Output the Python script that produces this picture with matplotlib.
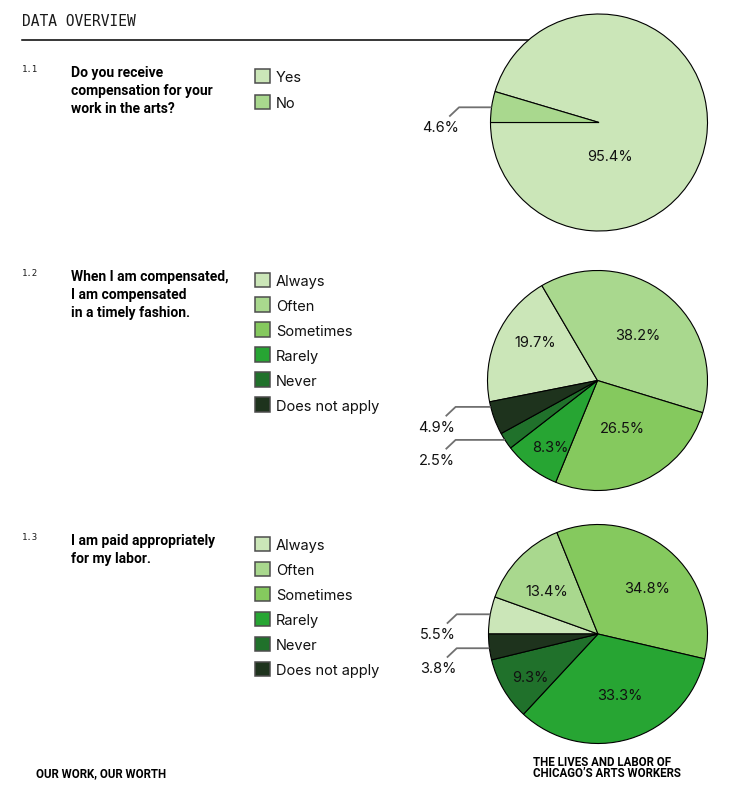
import numpy as np
import matplotlib
matplotlib.use("Agg")
import matplotlib.pyplot as plt
from matplotlib.patches import Rectangle

W, H = 732, 792

# survey answers (percent)
q1_labels = ["Yes", "No"]
q1_values = [95.4, 4.6]

q2_labels = ["Always", "Often", "Sometimes", "Rarely", "Never", "Does not apply"]
q2_values = [19.7, 38.2, 26.5, 8.3, 2.5, 4.9]

q3_labels = ["Always", "Often", "Sometimes", "Rarely", "Never", "Does not apply"]
q3_values = [5.5, 13.4, 34.8, 33.3, 9.3, 3.8]

questions = [
    ["Do you receive", "compensation for your", "work in the arts?"],
    ["When I am compensated,", "I am compensated", "in a timely fashion."],
    ["I am paid appropriately", "for my labor."],
]
numbers = ["1.1", "1.2", "1.3"]

greens = ["#cbe6b8", "#a9d88e", "#85c95e", "#27a533", "#20712b", "#1e331d"]

LABEL_FONT = "Inter"
Q_FONT = "Roboto"
MONO = "DejaVu Sans Mono"
FOOT = "Roboto"


def fy(py):
    return H - py


fig = plt.figure(figsize=(W / 100, H / 100), dpi=100)
ax = fig.add_axes([0, 0, 1, 1])

# header
ax.text(22, fy(25.5), "DATA OVERVIEW", family=MONO, fontsize=10.5,
        color="#1a1a1a", va="baseline")
ax.plot([22, 600], [fy(40), fy(40)], color="black", lw=1.1, zorder=0)

sections = [
    dict(top=72, cx=599, cy=122.5, r=108.5, start=180, ccw=True,
         labels=q1_labels, values=q1_values, colors=greens[:2], row=26,
         inner={0: (0.10, -0.32)}, callout={1: 0.14}),
    dict(top=276, cx=597.5, cy=380.5, r=110, start=191.2, ccw=False,
         labels=q2_labels, values=q2_values, colors=greens, row=24.9,
         inner={0: (-0.57, 0.34), 1: (0.37, 0.40), 2: (0.23, -0.44), 3: (-0.43, -0.61)},
         callout={5: -0.24, 4: -0.54}),
    dict(top=540, cx=598, cy=634, r=109.5, start=180, ccw=False,
         labels=q3_labels, values=q3_values, colors=greens, row=25,
         inner={1: (-0.47, 0.38), 2: (0.45, 0.41), 3: (0.20, -0.57), 4: (-0.62, -0.40)},
         callout={0: 0.18, 5: -0.13}),
]

for num, q, s in zip(numbers, questions, sections):
    top = s["top"]
    ax.text(22, fy(top), num, family=MONO, fontsize=6.5, color="#1a1a1a", va="baseline")
    for k, line in enumerate(q):
        ax.text(71, fy(top + 4.5 + k * 18.4), line, family=Q_FONT, fontsize=10,
                fontweight="bold", color="black", va="baseline")

    # legend keys
    for i, (lab, col) in enumerate(zip(s["labels"], s["colors"])):
        ptop = top - 3.5 + i * s["row"]
        ax.add_patch(Rectangle((255, fy(ptop + 14.5)), 14.5, 14.5, facecolor=col,
                               edgecolor="#4d4d4d", lw=1.1))
        ax.text(276, fy(ptop + 13.5), lab, family=LABEL_FONT, fontsize=10.5,
                color="#111111", va="baseline")

    cx, cy, r = s["cx"], fy(s["cy"]), s["r"]
    ax.pie(s["values"], colors=s["colors"], startangle=s["start"],
           counterclock=s["ccw"], center=(cx, cy), radius=r,
           wedgeprops=dict(edgecolor="black", linewidth=0.8))

    for i, (dx, dy) in s["inner"].items():
        ax.text(cx + dx * r, cy + dy * r, f"{s['values'][i]:.1f}%",
                family=LABEL_FONT, fontsize=10.5, ha="center", va="center",
                color="#111111")

    for i, yy in s["callout"].items():
        xa = -np.sqrt(1 - yy ** 2)
        ax.plot([cx + xa * r, cx - 1.29 * r, cx - 1.38 * r],
                [cy + yy * r, cy + yy * r, cy + (yy - 0.085) * r],
                color="#707070", lw=1.3, solid_capstyle="butt", zorder=3)
        ax.text(cx - 1.46 * r, cy + (yy - 0.19) * r, f"{s['values'][i]:.1f}%",
                family=LABEL_FONT, fontsize=10.5, ha="center", va="center",
                color="#111111")

# footer
ax.text(36, fy(777), "OUR WORK, OUR WORTH", family=FOOT, fontsize=8.3,
        fontweight="bold", va="baseline")
ax.text(533, fy(777), "THE LIVES AND LABOR OF\nCHICAGO\u2019S ARTS WORKERS",
        family=FOOT, fontsize=8.3, fontweight="bold", va="baseline",
        linespacing=0.85)

ax.set_xlim(0, W)
ax.set_ylim(0, H)
ax.set_aspect("equal")
ax.axis("off")

fig.savefig("out.png", dpi=100, facecolor="white")
